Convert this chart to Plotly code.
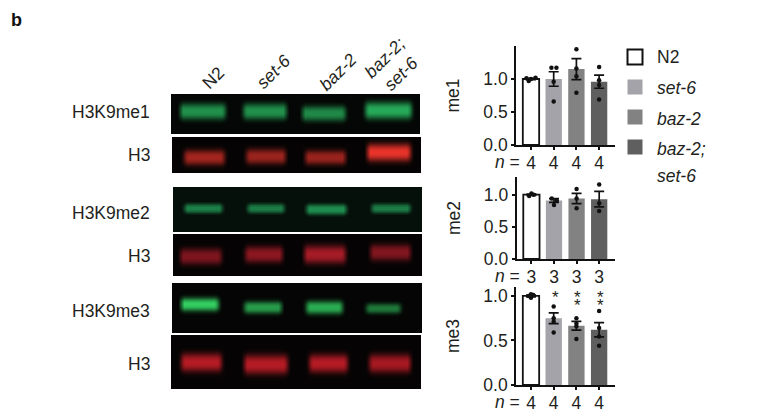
import numpy as np
import plotly.graph_objects as go

W, H = 765, 417
FONT = "Liberation Sans, Arial, sans-serif"
INK = "#231f20"

# ---------- data ----------
genotypes = ["N2", "set-6", "baz-2", "baz-2;<br>set-6"]
bar_colors = ["#ffffff", "#a3a3a9", "#828282", "#5f5f5f"]
positions = [0, 1, 2, 3]

me1_means = [1.00, 1.00, 1.15, 0.96]
me1_errs = [0.01, 0.11, 0.16, 0.10]
me1_pts = [[0.97, 1.00, 1.01, 1.02], [1.17, 1.17, 0.96, 0.66], [1.45, 1.16, 1.04, 0.79], [1.18, 0.98, 0.91, 0.69]]
me1_off = [[-0.1, 0.0, -0.2, 0.2], [-0.1, 0.12, 0.0, 0.0], [0, 0, 0, 0], [0, 0, 0, 0]]
me1_n = ["4", "4", "4", "4"]

me2_means = [1.00, 0.91, 0.94, 0.93]
me2_errs = [0.01, 0.03, 0.08, 0.12]
me2_pts = [[0.98, 1.00, 1.02], [0.94, 0.91, 0.84], [1.09, 0.94, 0.79], [1.16, 0.865, 0.746]]
me2_off = [[-0.1, 0.1, 0.0], [-0.1, 0.12, 0.0], [0, 0, 0], [0, 0, 0]]
me2_n = ["3", "3", "3", "3"]

me3_means = [1.00, 0.75, 0.665, 0.62]
me3_errs = [0.01, 0.06, 0.05, 0.08]
me3_pts = [[0.98, 1.00, 1.01, 1.02], [0.88, 0.75, 0.71, 0.59], [0.75, 0.69, 0.66, 0.515], [0.83, 0.64, 0.545, 0.44]]
me3_off = [[0, -0.1, 0.1, 0], [0, 0, 0, 0], [0, 0, 0, 0], [0, 0, 0, 0]]
me3_n = ["4", "4", "4", "4"]
me3_star_counts = [0, 1, 2, 2]

# ---------- helpers: pixel rectangles -> paper fractions ----------
def hdom(a, b):
    return [a / W, b / W]

def vdom(top, bottom):
    return [1 - bottom / H, 1 - top / H]

fig = go.Figure()

charts = [
    dict(name="me1", means=me1_means, errs=me1_errs, pts=me1_pts, off=me1_off, n=me1_n,
         ymax=1.5, box=(516, 615, 46, 145), ticks=[0, 0.5, 1.0]),
    dict(name="me2", means=me2_means, errs=me2_errs, pts=me2_pts, off=me2_off, n=me2_n,
         ymax=1.275, box=(516.5, 615, 177, 259), ticks=[0, 0.5, 1.0]),
    dict(name="me3", means=me3_means, errs=me3_errs, pts=me3_pts, off=me3_off, n=me3_n,
         ymax=1.10, box=(516, 615, 287, 385), ticks=[0, 0.5, 1.0]),
]

annotations = []
layout = {}

for i, c in enumerate(charts, start=1):
    xa, ya = ("x", "y") if i == 1 else (f"x{i}", f"y{i}")
    fig.add_trace(go.Bar(
        x=positions, y=c["means"], width=0.72, xaxis=xa, yaxis=ya, showlegend=False,
        marker=dict(color=bar_colors, line=dict(color=["#111111", "rgba(0,0,0,0)", "rgba(0,0,0,0)", "rgba(0,0,0,0)"], width=1.8)),
        error_y=dict(type="data", array=c["errs"], color="#111111", thickness=1.7, width=5),
        name=c["name"],
    ))
    px, py = [], []
    for p, vals, offs in zip(positions, c["pts"], c["off"]):
        for v, o in zip(vals, offs):
            px.append(p + o)
            py.append(v)
    fig.add_trace(go.Scatter(
        x=px, y=py, mode="markers", xaxis=xa, yaxis=ya, showlegend=False,
        marker=dict(color="#111111", size=4.5, symbol="circle"), name=c["name"] + " samples",
    ))
    x0, x1, top, bottom = c["box"]
    suffix = "" if i == 1 else str(i)
    layout["xaxis" + suffix] = dict(
        domain=hdom(x0, x1), range=[-0.66, 3.7], anchor=ya, tickmode="array",
        tickvals=positions, ticktext=c["n"], ticks="outside", ticklen=3, tickwidth=1.6,
        tickcolor="#111111", showline=True, linecolor="#111111", linewidth=1.7, showgrid=False,
        zeroline=False, tickfont=dict(family=FONT, size=17.5, color=INK), fixedrange=True,
        automargin=False, ticklabelstandoff=-2,
    )
    layout["yaxis" + suffix] = dict(
        domain=vdom(top, bottom), range=[0, c["ymax"]], anchor=xa, tickmode="array",
        tickvals=c["ticks"], ticktext=["0.0", "0.5", "1.0"], ticks="outside", ticklen=3, tickwidth=1.6,
        tickcolor="#111111", showline=True, linecolor="#111111", linewidth=1.7, showgrid=False,
        zeroline=False, tickfont=dict(family=FONT, size=17.5, color=INK), fixedrange=True,
        automargin=False,
        title=dict(text=c["name"], font=dict(family=FONT, size=17.5, color=INK), standoff=19),
    )
    annotations.append(dict(
        text="<i>n</i> =", xref="paper", yref="paper", x=522 / W, y=1 - (bottom + 17) / H,
        showarrow=False, xanchor="right", yanchor="middle",
        font=dict(family=FONT, size=17.5, color=INK),
    ))

for p, count in zip(positions, me3_star_counts):
    for line in range(count):
        annotations.append(dict(
            text="*", xref="x3", yref="paper", x=p + 0.07, y=1 - (297 + 8 * line) / H, showarrow=False,
            xanchor="center", yanchor="middle", font=dict(family=FONT, size=17, color=INK),
        ))

# legend: swatches on their own axis, labels beside them
legend_labels = ["N2", "<i>set-6</i>", "<i>baz-2</i>", "<i>baz-2;</i>", "<i>set-6</i>"]
legend_label_y = [57, 88, 119, 149, 176]
legend_swatch_y = [57, 87, 117, 147]
fig.add_trace(go.Scatter(
    x=[635] * 4, y=legend_swatch_y, mode="markers", xaxis="x10", yaxis="y10", showlegend=False,
    marker=dict(symbol="square", size=15, color=bar_colors, line=dict(color="#111111", width=[2, 0, 0, 0])),
    name="legend",
))
layout["xaxis10"] = dict(domain=hdom(622, 648), range=[622, 648], visible=False, anchor="y10", fixedrange=True)
layout["yaxis10"] = dict(domain=vdom(44, 160), range=[160, 44], visible=False, anchor="x10", fixedrange=True)
for text, ly in zip(legend_labels, legend_label_y):
    annotations.append(dict(
        text=text, xref="paper", yref="paper", x=655 / W, y=1 - ly / H, showarrow=False,
        xanchor="left", yanchor="middle", font=dict(family=FONT, size=17.5, color=INK),
    ))

# ---------- western blot panels ----------
panel_names = ["H3K9me1", "H3", "H3K9me2", "H3", "H3K9me3", "H3"]
panel_boxes = [(171, 420, 94, 134), (172, 421, 137, 173), (173, 422, 187, 232),
               (173, 422, 234, 276), (172, 422, 283, 333), (171, 421, 335, 389)]
panel_colors = ["#2cc868", "#e8332a", "#27b765", "#c8202e", "#35d865", "#d41f2a"]
panel_background = [0.02, 0.01, 0.07, 0.01, 0.01, 0.01]
lane_starts = [[177, 240, 299, 362], [181, 243, 302, 364], [181, 244, 303, 368],
               [177, 242, 301, 367], [178, 241, 303, 363], [178, 241, 306, 366]]
lane_ends = [[228, 289, 348, 414], [227, 288, 348, 413], [225, 287, 349, 413],
             [224, 285, 348, 413], [221, 284, 345, 403], [224, 290, 350, 413]]
lane_centres = [[111, 111, 113, 110], [157, 156, 157, 152], [208, 208, 209, 208],
                [256, 254, 254, 252], [304, 307, 307, 308], [362, 364, 363, 363]]
lane_thick = [[14, 14, 13, 15], [13, 13, 12, 15], [8, 8, 9, 8],
              [14, 14, 16, 14], [11, 10, 11, 8], [16, 17, 16, 16]]
lane_level = [[0.72, 0.72, 0.68, 0.85], [0.70, 0.66, 0.66, 1.0], [0.70, 0.68, 0.78, 0.68],
              [0.62, 0.70, 0.82, 0.64], [0.95, 0.72, 0.80, 0.55], [0.85, 0.85, 0.85, 0.78]]
panel_label_y = [112, 155, 213, 256, 311, 364]

for k in range(6):
    x0, x1, top, bottom = panel_boxes[k]
    xs = np.arange(x0, x1 + 1, 2.0)
    ys = np.arange(top, bottom + 1, 2.0)
    z = np.full((len(ys), len(xs)), panel_background[k])
    for s, e, yc, t, lev in zip(lane_starts[k], lane_ends[k], lane_centres[k], lane_thick[k], lane_level[k]):
        across = np.clip((xs - s) / 6, 0, 1) * np.clip((e - xs) / 6, 0, 1)
        down = np.exp(-(np.abs(ys - yc) / (t / 2 + 1)) ** 2.6)
        z = np.maximum(z, lev * np.outer(down, across))
    idx = 4 + k
    fig.add_trace(go.Heatmap(
        x=xs, y=ys, z=z, zmin=0, zmax=1, zsmooth="best", showscale=False, hoverinfo="skip",
        colorscale=[[0, "#030303"], [1, panel_colors[k]]],
        xaxis=f"x{idx}", yaxis=f"y{idx}", name=panel_names[k],
    ))
    layout[f"xaxis{idx}"] = dict(domain=hdom(x0, x1), range=[x0, x1], visible=False, anchor=f"y{idx}", fixedrange=True)
    layout[f"yaxis{idx}"] = dict(domain=vdom(top, bottom), range=[bottom, top], visible=False, anchor=f"x{idx}", fixedrange=True)
    annotations.append(dict(
        text=panel_names[k], xref="paper", yref="paper", x=152 / W, y=1 - panel_label_y[k] / H,
        showarrow=False, xanchor="right", yanchor="middle",
        font=dict(family=FONT, size=17.5, color=INK),
    ))

# rotated lane headers
header_x = [213, 273, 338, 393]
header_y = [78, 72, 72, 65]
for name, hx, hy in zip(genotypes, header_x, header_y):
    label = name if name == "N2" else "<i>" + name.replace("<br>", "</i><br><i>") + "</i>"
    annotations.append(dict(
        text=label, xref="paper", yref="paper", x=hx / W, y=1 - hy / H, showarrow=False,
        textangle=-45, xanchor="center", yanchor="middle", align="center",
        font=dict(family=FONT, size=17.5, color=INK),
    ))

annotations.append(dict(
    text="<b>b</b>", xref="paper", yref="paper", x=9 / W, y=1 - 20 / H, showarrow=False,
    xanchor="left", yanchor="middle", font=dict(family=FONT, size=18, color="#111111"),
))

fig.update_layout(
    width=W, height=H, margin=dict(l=0, r=0, t=0, b=0, pad=0), paper_bgcolor="white", plot_bgcolor="rgba(0,0,0,0)",
    font=dict(family=FONT, size=17.5, color=INK), annotations=annotations, showlegend=False,
    **layout,
)

fig.write_html("out.html", config={"displayModeBar": False}, post_script="document.body.style.margin='0';")
